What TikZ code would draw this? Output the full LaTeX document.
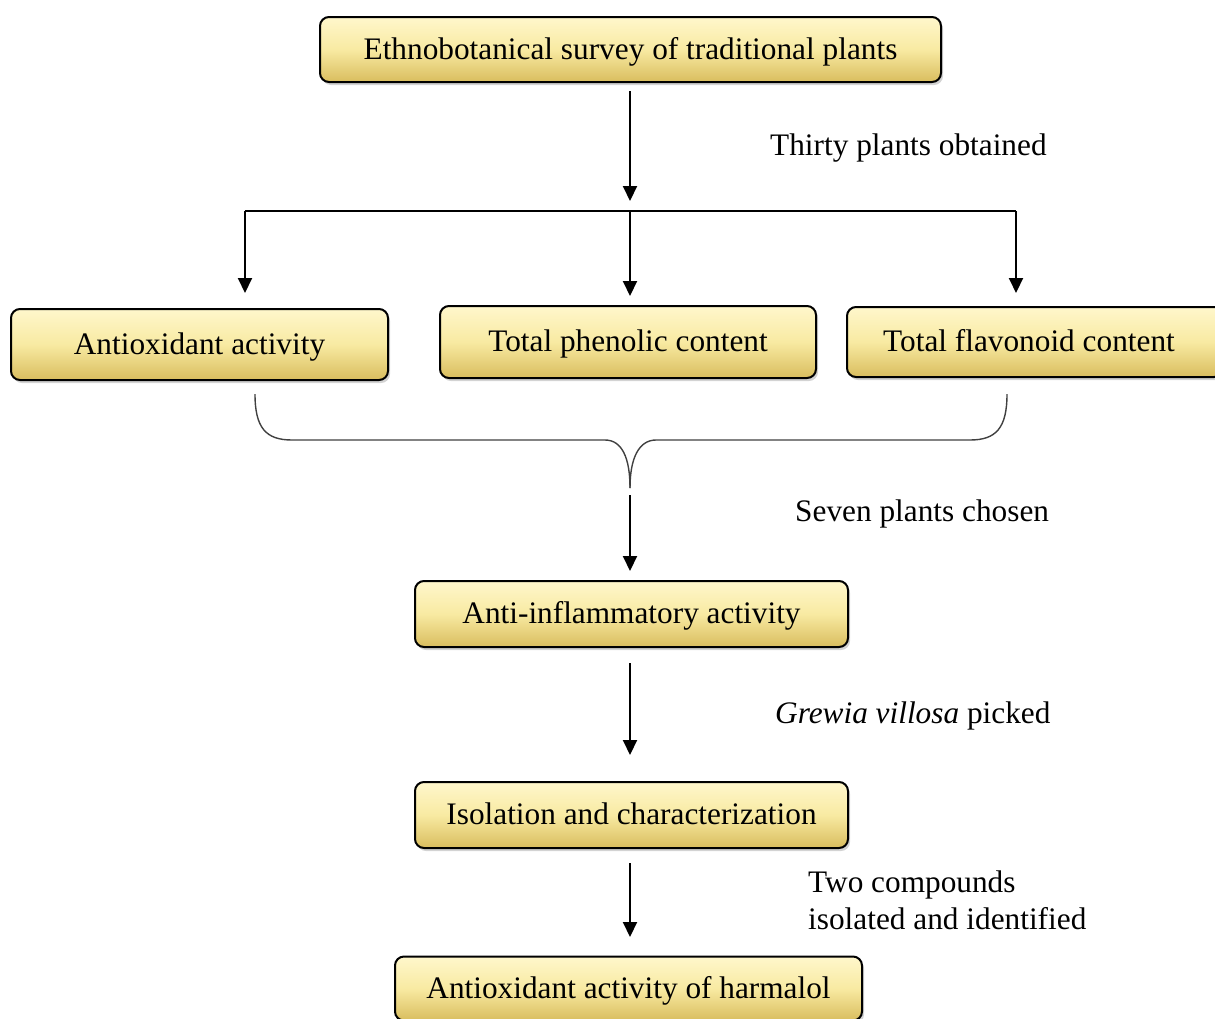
\documentclass[tikz,border=0pt]{standalone}
\usepackage{fontspec}
\setmainfont{Liberation Serif}
\usetikzlibrary{arrows.meta,shadows}
\definecolor{boxtop}{HTML}{FFF7CC}
\definecolor{boxmid}{HTML}{F8EAA2}
\definecolor{boxbot}{HTML}{D9BD5E}
\begin{document}
\begin{tikzpicture}[x=1pt,y=-1pt,
  flowbox/.style={draw=black,line width=2pt,rounded corners=9pt,
    top color=boxtop,bottom color=boxbot,middle color=boxmid,
    drop shadow={shadow xshift=2pt,shadow yshift=-3pt,opacity=0.35},
    font=\fontsize{31.3}{37}\selectfont,inner sep=0pt,align=center,
    text height=20pt,text depth=1pt},
  lab/.style={font=\fontsize{31.3}{37}\selectfont,inner sep=0pt,anchor=west,align=left},
  conn/.style={line width=2pt,draw=black},
  arr/.style={conn,-{Triangle[length=15pt,width=14pt]}}]
\useasboundingbox (0,0) rectangle (1215,1018);
\begin{scope}
\clip (0,0) rectangle (1215,1018);
\node[flowbox,minimum width=621,minimum height=65] (top) at (630.5,49.5) {Ethnobotanical survey of traditional plants};
\node[flowbox,minimum width=377,minimum height=71] (ao) at (199.5,344.5) {Antioxidant activity};
\node[flowbox,minimum width=376,minimum height=72] (tp) at (628,342) {Total phenolic content};
\node[flowbox,minimum width=376,minimum height=70] (tf) at (1035,342) {\hspace*{-12pt}Total flavonoid content};
\node[flowbox,minimum width=433,minimum height=66] (ai) at (631.5,614) {Anti-inflammatory activity};
\node[flowbox,minimum width=433,minimum height=66] (iso) at (631.5,815) {Isolation and characterization};
\node[flowbox,minimum width=467,minimum height=64] (har) at (628.5,988.5) {Antioxidant activity of harmalol};
\end{scope}

% top arrow and split
\coordinate (split) at (630,211);
\coordinate (sl) at (245,211);
\coordinate (sr) at (1016,211);
\coordinate (bc) at (630,488);
\draw[arr] ([yshift=-8pt]top.south -| split) -- (630,201);
\draw[conn] (sl) -- (sr);
\draw[arr] (sl) -- (245,293);
\draw[arr] (split) -- (630,296);
\draw[arr] (sr) -- (1016,293);

% brace
\coordinate (bl) at (255,394);
\coordinate (br) at (1007,394);
\draw[line width=1.4pt,black!75] (bl) .. controls (255,428) and (266,440) .. (292,440) -- (605,440)
  .. controls (622,440) and (630,458) .. (bc);
\draw[line width=1.4pt,black!75] (br) .. controls (1007,428) and (996,440) .. (970,440) -- (656,440)
  .. controls (639,440) and (630,458) .. (bc);

% lower arrows
\draw[arr] ([yshift=-7pt]bc) -- (630,571);
\draw[arr] ([yshift=-15pt]ai.south -| bc) -- (630,755);
\draw[arr] ([yshift=-14pt]iso.south -| bc) -- (630,937);

% labels
\node[lab] (l1) at (770,148) {Thirty plants obtained};
\node[lab] (l2) at (795,514) {Seven plants chosen};
\node[lab] (l3) at (775,716) {\textit{Grewia villosa} picked};
\node[lab] (l4) at (808,900) {Two compounds\\isolated and identified};
\end{tikzpicture}
\end{document}
